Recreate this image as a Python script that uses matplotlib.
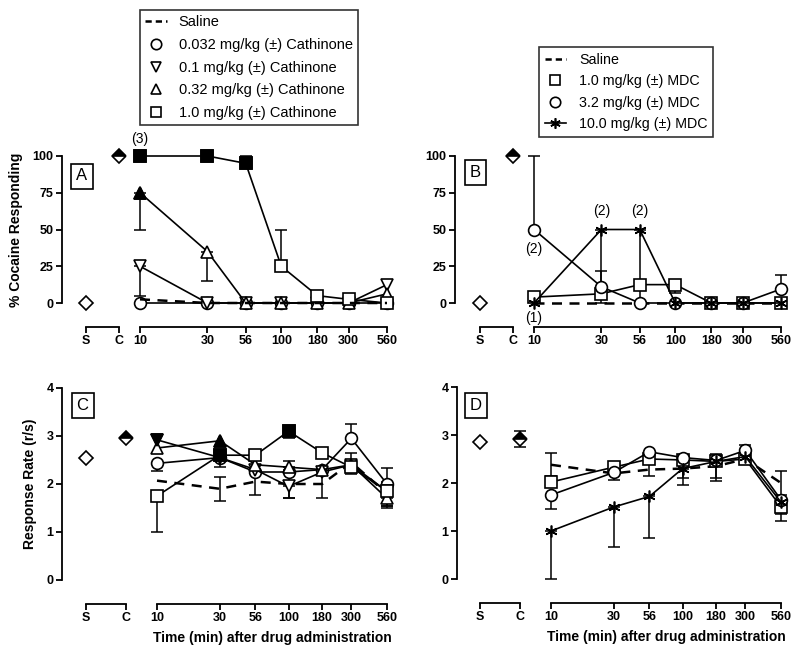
import matplotlib.pyplot as plt
from matplotlib.lines import Line2D

plt.rcParams['font.family'] = ['Liberation Sans', 'DejaVu Sans']

W, H = 800, 662

times = [10, 30, 56, 100, 180, 300, 560]
time_labels = ['10', '30', '56', '100', '180', '300', '560']
sc_labels = ['S', 'C']

# ---- panel A: % cocaine responding, cathinone ----
a_sc = [0, 100]
a_saline = [2.5, 0, 0, 0, 0, 0, 0]
a_c0032 = [0, 0, 0, 0, 0, 0, 0]
a_c01 = [25, 0, 0, 0, 0, 0, 12.5]
a_c01_lo = [20, 0, 0, 0, 0, 0, 0]
a_c032 = [75, 35, 0, 0, 0, 0, 6.25]
a_c032_lo = [25, 20, 0, 0, 0, 0, 0]
a_c032_fill = [True, False, False, False, False, False, False]
a_c10 = [100, 100, 95, 25, 5, 2.5, 0]
a_c10_hi = [0, 0, 5, 25, 0, 0, 0]
a_c10_fill = [True, True, True, False, False, False, False]

# ---- panel B: % cocaine responding, MDC ----
b_sc = [0, 100]
b_saline = [0, 0, 0, 0, 0, 0, 0]
b_m10 = [4, 6.25, 12.5, 12.5, 0, 0, 0]
b_m10_hi = [0, 15.75, 0, 0, 0, 0, 0]
b_m10_lo = [0, 0, 0, 6, 0, 0, 0]
b_m32 = [50, 11, 0, 0, 0, 0, 9.5]
b_m32_hi = [50, 0, 0, 0, 0, 0, 9.5]
b_m100 = [0, 50, 50, 0, 0, 0, 0]
b_m100_lo = [0, 50, 50, 0, 0, 0, 0]

# ---- panel C: response rate, cathinone ----
c_sc = [2.55, 2.95]
c_saline = [2.07, 1.9, 2.05, 2.0, 2.0, 2.45, 1.8]
c_saline_err = [0, 0.25, 0.27, 0.3, 0.3, 0.2, 0.25]
c_c0032 = [2.43, 2.55, 2.25, 2.25, 2.3, 2.95, 2.0]
c_c0032_hi = [0, 0, 0, 0, 0, 0.3, 0.33]
c_c0032_lo = [0.15, 0, 0, 0, 0, 0, 0]
c_c01 = [2.92, 2.55, 2.3, 1.95, 2.25, 2.4, 1.85]
c_c01_lo = [0, 0.2, 0, 0.25, 0, 0, 0]
c_c01_fill = [True, False, False, False, False, False, False]
c_c032 = [2.75, 2.9, 2.4, 2.35, 2.3, 2.4, 1.7]
c_c032_hi = [0, 0, 0, 0.13, 0, 0, 0]
c_c032_lo = [0, 0, 0, 0, 0, 0, 0.2]
c_c032_fill = [False, True, False, False, False, False, False]
c_c10 = [1.75, 2.6, 2.6, 3.1, 2.65, 2.35, 1.85]
c_c10_lo = [0.75, 0, 0, 0.15, 0, 0.15, 0.3]
c_c10_fill = [False, True, False, True, False, False, False]

# ---- panel D: response rate, MDC ----
d_sc = [2.86, 2.92]
d_sc_err = [0, 0.17]
d_saline = [2.38, 2.2, 2.28, 2.3, 2.35, 2.5, 2.0]
d_saline_err = [0.24, 0.13, 0.13, 0.2, 0.25, 0, 0.25]
d_m10 = [2.02, 2.33, 2.5, 2.48, 2.45, 2.5, 1.5]
d_m10_lo = [0, 0, 0, 0, 0, 0, 0.3]
d_m32 = [1.75, 2.22, 2.65, 2.53, 2.47, 2.68, 1.65]
d_m32_hi = [0, 0, 0, 0, 0, 0.12, 0]
d_m32_lo = [0.3, 0, 0, 0, 0, 0, 0.3]
d_m100 = [1.0, 1.5, 1.72, 2.3, 2.45, 2.55, 1.6]
d_m100_lo = [1.0, 0.83, 0.87, 0.35, 0.4, 0, 0]

cath_labels = ['Saline', '0.032 mg/kg (\u00b1) Cathinone', '0.1 mg/kg (\u00b1) Cathinone',
               '0.32 mg/kg (\u00b1) Cathinone', '1.0 mg/kg (\u00b1) Cathinone']
mdc_labels = ['Saline', '1.0 mg/kg (\u00b1) MDC', '3.2 mg/kg (\u00b1) MDC', '10.0 mg/kg (\u00b1) MDC']

STAR = (6, 2, 0)
MS = 8.5
LW = 1.2
TICKFONT = dict(fontsize=9, fontweight='bold')


def rect(x0, y0, x1, y1):
    return [x0 / W, 1 - y1 / H, (x1 - x0) / W, (y1 - y0) / H]


def make_panel(fig, yx, sx, cx, t0, t1, ytop, ybot, ylim, yticks, ylabel):
    unit = cx - sx
    ax_l = fig.add_axes(rect(yx, ytop, t0 - 8, ybot))
    ax_r = fig.add_axes(rect(t0, ytop, t1, ybot))
    for ax in (ax_l, ax_r):
        ax.set_facecolor('none')
        ax.set_ylim(*ylim)
        ax.spines['top'].set_visible(False)
        ax.spines['right'].set_visible(False)
        ax.spines['bottom'].set_position(('outward', 17.3))
        ax.spines['bottom'].set_linewidth(1.3)
        ax.spines['left'].set_linewidth(1.3)
        ax.tick_params(axis='both', direction='out', length=4, width=1.3, pad=2)
    ax_l.set_xlim((yx - sx) / unit, (t0 - 8 - sx) / unit)
    ax_l.spines['bottom'].set_bounds(0, 1)
    ax_l.set_xticks([0, 1])
    ax_l.set_xticklabels(sc_labels, **TICKFONT)
    ax_l.set_yticks(yticks)
    ax_l.set_yticklabels([str(v) for v in yticks], **TICKFONT)
    ax_l.set_ylabel(ylabel, fontsize=10, fontweight='bold', labelpad=7)

    ax_r.set_xscale('log')
    ax_r.set_xlim(10, 560)
    ax_r.spines['left'].set_visible(False)
    ax_r.spines['bottom'].set_bounds(10, 560)
    ax_r.set_yticks([])
    ax_r.set_xticks(times)
    ax_r.set_xticklabels(time_labels, **TICKFONT)
    ax_r.minorticks_off()
    return ax_l, ax_r


def errs(ax, y, lo=None, hi=None, err=None):
    n = len(y)
    if err is not None:
        lo, hi = err, err
    lo = lo if lo is not None else [0] * n
    hi = hi if hi is not None else [0] * n
    idx = [i for i in range(n) if lo[i] > 0 or hi[i] > 0]
    if not idx:
        return
    ax.errorbar([times[i] for i in idx], [y[i] for i in idx],
                yerr=[[lo[i] for i in idx], [hi[i] for i in idx]],
                fmt='none', ecolor='black', elinewidth=1.1, capsize=4.5,
                capthick=1.1, zorder=2, clip_on=False)


def series(ax, y, marker=None, fill=None, dashed=False, z=3):
    if dashed:
        ax.plot(times, y, color='black', lw=1.8, ls=(0, (4, 3)), zorder=z, clip_on=False)
        return
    ax.plot(times, y, color='black', lw=LW, marker=marker, ms=MS, mfc='white',
            mec='black', mew=1.2, zorder=z, clip_on=False)
    if fill is not None:
        xs = [t for t, f in zip(times, fill) if f]
        ys = [v for v, f in zip(y, fill) if f]
        ax.plot(xs, ys, ls='none', marker=marker, ms=MS, mfc='black', mec='black',
                mew=1.2, zorder=z + 0.5, clip_on=False)


def sc_points(ax, vals, err=None):
    if err is not None:
        ax.errorbar([1], [vals[1]], yerr=[err[1]], fmt='none', ecolor='black',
                    elinewidth=1.1, capsize=4.5, capthick=1.1, zorder=2, clip_on=False)
    ax.plot([0], [vals[0]], ls='none', marker='D', ms=7.5, mfc='white', mec='black',
            mew=1.2, clip_on=False, zorder=3)
    ax.plot([1], [vals[1]], ls='none', marker='D', ms=7.5, fillstyle='top', mfc='black',
            mfcalt='white', mec='black', mew=1.2, clip_on=False, zorder=3)


def panel_letter(fig, x, y, s):
    fig.text(x / W, 1 - y / H, s, fontsize=12, ha='center', va='center',
             bbox=dict(boxstyle='square,pad=0.3', fc='white', ec='black', lw=1.2))


fig = plt.figure(figsize=(W / 100, H / 100), dpi=100)

# ---------- A ----------
axl, axr = make_panel(fig, 62, 86, 119, 140, 387, 156, 303, (0, 100),
                      [0, 25, 50, 75, 100], '% Cocaine Responding')
sc_points(axl, a_sc)
errs(axr, a_c01, lo=a_c01_lo)
errs(axr, a_c032, lo=a_c032_lo)
errs(axr, a_c10, hi=a_c10_hi)
series(axr, a_saline, dashed=True, z=6)
series(axr, a_c0032, 'o')
series(axr, a_c01, 'v')
series(axr, a_c032, '^', a_c032_fill)
series(axr, a_c10, 's', a_c10_fill)
axr.text(10, 107, '(3)', fontsize=10, ha='center', va='bottom')
panel_letter(fig, 82, 176, 'A')

# ---------- B ----------
axl, axr = make_panel(fig, 455, 480, 513, 534, 781, 156, 303, (0, 100),
                      [0, 25, 50, 75, 100], '')
sc_points(axl, b_sc)
errs(axr, b_m10, lo=b_m10_lo, hi=b_m10_hi)
errs(axr, b_m32, hi=b_m32_hi)
errs(axr, b_m100, lo=b_m100_lo)
series(axr, b_saline, dashed=True, z=2.5)
series(axr, b_m10, 's')
series(axr, b_m32, 'o')
series(axr, b_m100, STAR)
axr.text(30, 58, '(2)', fontsize=10, ha='center', va='bottom')
axr.text(56, 58, '(2)', fontsize=10, ha='center', va='bottom')
axr.text(10, 37, '(2)', fontsize=10, ha='center', va='center')
axr.text(10, -10, '(1)', fontsize=10, ha='center', va='center')
panel_letter(fig, 475.5, 172.5, 'B')

# ---------- C ----------
axl, axr = make_panel(fig, 62, 86, 126, 157, 387, 388, 580, (0, 4),
                      [0, 1, 2, 3, 4], 'Response Rate (r/s)')
sc_points(axl, c_sc)
errs(axr, c_saline, err=c_saline_err)
errs(axr, c_c0032, lo=c_c0032_lo, hi=c_c0032_hi)
errs(axr, c_c01, lo=c_c01_lo)
errs(axr, c_c032, lo=c_c032_lo, hi=c_c032_hi)
errs(axr, c_c10, lo=c_c10_lo)
series(axr, c_saline, dashed=True, z=2.5)
series(axr, c_c0032, 'o')
series(axr, c_c01, 'v', c_c01_fill)
series(axr, c_c032, '^', c_c032_fill)
series(axr, c_c10, 's', c_c10_fill)
axr.set_xlabel('Time (min) after drug administration', fontsize=10,
               fontweight='bold', labelpad=5)
panel_letter(fig, 82.5, 405, 'C')

# ---------- D ----------
axl, axr = make_panel(fig, 457, 480, 520, 551, 781, 387, 579, (0, 4),
                      [0, 1, 2, 3, 4], '')
sc_points(axl, d_sc, err=d_sc_err)
errs(axr, d_saline, err=d_saline_err)
errs(axr, d_m10, lo=d_m10_lo)
errs(axr, d_m32, lo=d_m32_lo, hi=d_m32_hi)
errs(axr, d_m100, lo=d_m100_lo)
series(axr, d_saline, dashed=True, z=2.5)
series(axr, d_m10, 's')
series(axr, d_m32, 'o')
series(axr, d_m100, STAR)
axr.set_xlabel('Time (min) after drug administration', fontsize=10,
               fontweight='bold', labelpad=5)
panel_letter(fig, 476, 405, 'D')

# ---------- legends ----------
dash = Line2D([], [], color='black', lw=1.8, ls=(0, (2.5, 1.6)))


def mk(m, line=False):
    return Line2D([], [], color='black', lw=LW if line else 0, marker=m, ms=7.5,
                  mfc='white', mec='black', mew=1.2)


leg_a = fig.legend([dash, mk('o'), mk('v'), mk('^'), mk('s')], cath_labels,
                   loc='upper left', bbox_to_anchor=(140 / W, 1 - 10 / H),
                   fontsize=10.5, frameon=True, fancybox=False, edgecolor='black',
                   handlelength=1.5, handletextpad=0.8, labelspacing=0.6,
                   borderpad=0.35, borderaxespad=0)
leg_a.get_frame().set_linewidth(1.2)

leg_b = fig.legend([dash, mk('s'), mk('o'), mk(STAR, line=True)], mdc_labels,
                   loc='upper left', bbox_to_anchor=(539 / W, 1 - 47 / H),
                   fontsize=10.3, frameon=True, fancybox=False, edgecolor='black',
                   handlelength=1.5, handletextpad=0.9, labelspacing=0.52,
                   borderpad=0.4, borderaxespad=0)
leg_b.get_frame().set_linewidth(1.2)

fig.savefig('out.png', dpi=100)
